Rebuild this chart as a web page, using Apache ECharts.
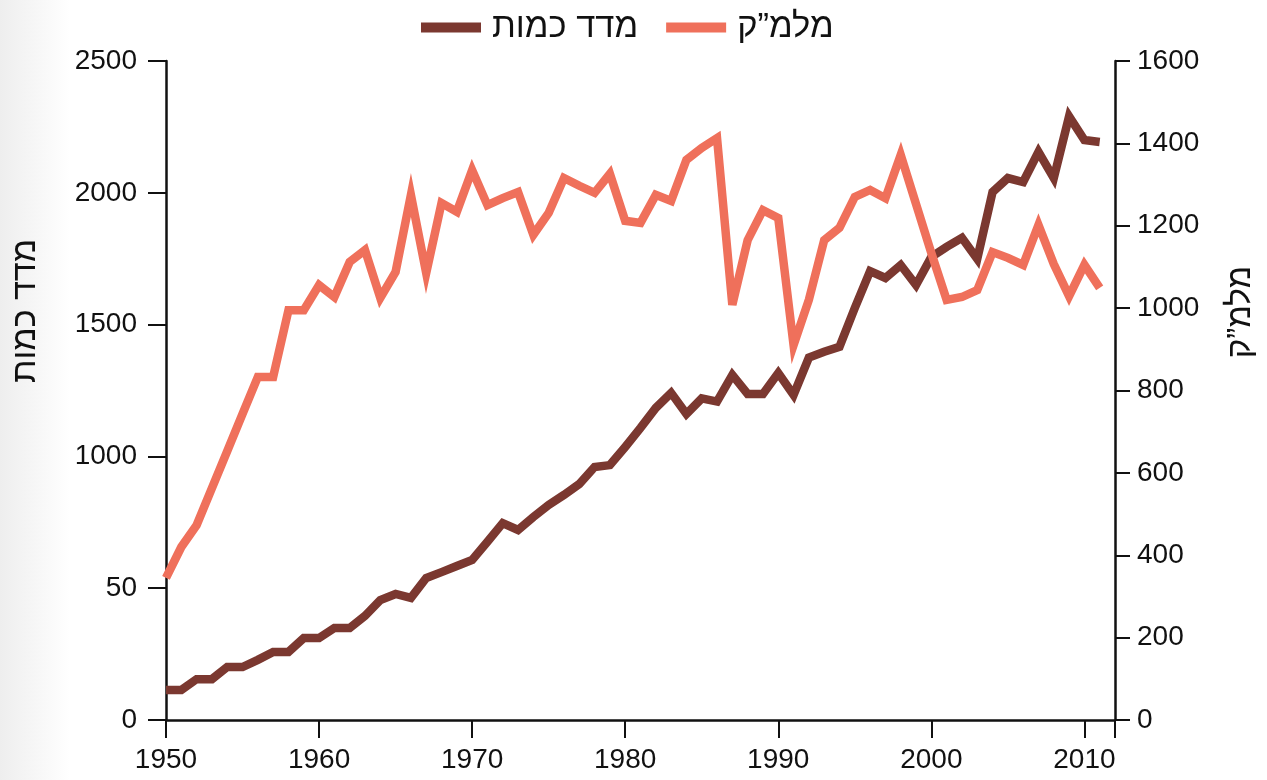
<!DOCTYPE html>
<html>
<head>
<meta charset="utf-8">
<script src="https://cdn.jsdelivr.net/npm/echarts@6/dist/echarts.min.js"></script>
<style>
    html, body { margin: 0; padding: 0; }
    body { background: linear-gradient(to right, #eeeeee 0px, #ffffff 70px); }
    #chart { width: 1267px; height: 780px; }
</style>
</head>
<body>
<div id="chart"></div>
<script>
// שנים
const years = [
    1950, 1951, 1952, 1953, 1954, 1955, 1956, 1957, 1958, 1959,
    1960, 1961, 1962, 1963, 1964, 1965, 1966, 1967, 1968, 1969,
    1970, 1971, 1972, 1973, 1974, 1975, 1976, 1977, 1978, 1979,
    1980, 1981, 1982, 1983, 1984, 1985, 1986, 1987, 1988, 1989,
    1990, 1991, 1992, 1993, 1994, 1995, 1996, 1997, 1998, 1999,
    2000, 2001, 2002, 2003, 2004, 2005, 2006, 2007, 2008, 2009,
    2010, 2011
];

// מדד כמות (ציר שמאלי)
const quantityIndex = [
    114, 114, 155, 155, 201, 201, 228, 258, 258, 311,
    311, 349, 349, 395, 455, 478, 463, 539, 561, 584,
    607, 676, 747, 721, 770, 816, 854, 895, 960, 967,
    1036, 1108, 1184, 1241, 1161, 1220, 1208, 1309, 1237, 1237,
    1316, 1233, 1375, 1397, 1416, 1563, 1703, 1677, 1726, 1650,
    1757, 1795, 1829, 1749, 2003, 2056, 2041, 2155, 2056, 2290,
    2200, 2193
];

// מלמ"ק (ציר ימני)
const mlmk = [
    345, 420, 473, 563, 653, 743, 833, 833, 995, 995,
    1056, 1027, 1112, 1141, 1025, 1088, 1275, 1085, 1255, 1234,
    1335, 1250, 1267, 1282, 1178, 1231, 1316, 1297, 1280, 1326,
    1212, 1207, 1275, 1260, 1360, 1389, 1413, 1008, 1165, 1238,
    1219, 910, 1020, 1165, 1195, 1270, 1287, 1267, 1372, 1253,
    1134, 1020, 1027, 1044, 1136, 1122, 1105, 1202, 1107, 1029,
    1105, 1049
];

// תוויות הציר השמאלי כפי שמופיעות במקור
const leftTickLabels = ['0', '50', '1000', '1500', '2000', '2500'];

const seriesNames = ['מדד כמות', 'מלמ”ק'];

const font = "'Liberation Sans', 'DejaVu Sans', sans-serif";
const axisColor = '#111';

const chart = echarts.init(document.getElementById('chart'), null, { renderer: 'canvas' });

const option = {
    animation: false,
    backgroundColor: 'transparent',
    textStyle: { fontFamily: font },
    legend: {
        data: seriesNames,
        left: 416,
        top: 5,
        itemWidth: 60,
        itemHeight: 10,
        itemGap: 28,
        icon: 'rect',
        textStyle: { fontSize: 34.5, color: '#111', fontFamily: font, padding: [0, 0, 0, 6] }
    },
    grid: { left: 166, right: 152, top: 61, bottom: 60 },
    xAxis: {
        type: 'value',
        min: 1950,
        max: 2012,
        interval: 10,
        axisLine: { lineStyle: { color: axisColor, width: 2.5 } },
        axisTick: { length: 18, lineStyle: { color: axisColor, width: 2 } },
        axisLabel: {
            fontSize: 28,
            color: axisColor,
            margin: 26,
            formatter: v => (v % 10 === 0 ? String(v) : '')
        },
        splitLine: { show: false }
    },
    yAxis: [
        {
            type: 'value',
            position: 'left',
            min: 0,
            max: 2500,
            interval: 500,
            axisLine: { show: true, lineStyle: { color: axisColor, width: 2.5 } },
            axisTick: { show: true, length: 18, lineStyle: { color: axisColor, width: 2 } },
            axisLabel: {
                fontSize: 28,
                color: axisColor,
                margin: 29,
                formatter: (v) => leftTickLabels[Math.round(v / 500)]
            },
            splitLine: { show: false }
        },
        {
            type: 'value',
            position: 'right',
            min: 0,
            max: 1600,
            interval: 200,
            axisLine: { show: true, lineStyle: { color: axisColor, width: 2.5 } },
            axisTick: { show: true, length: 15, lineStyle: { color: axisColor, width: 2 } },
            axisLabel: { fontSize: 28, color: axisColor, margin: 22, formatter: v => String(v) },
            splitLine: { show: false }
        }
    ],
    graphic: [
        {
            type: 'text',
            x: 26,
            y: 311,
            rotation: Math.PI / 2,
            style: {
                text: seriesNames[0],
                fontSize: 34,
                fontFamily: font,
                fill: '#111',
                align: 'center',
                verticalAlign: 'middle'
            }
        },
        {
            type: 'text',
            x: 1241,
            y: 312,
            rotation: Math.PI / 2,
            style: {
                text: seriesNames[1],
                fontSize: 33,
                fontFamily: font,
                fill: '#111',
                align: 'center',
                verticalAlign: 'middle'
            }
        }
    ],
    series: [
        {
            name: seriesNames[0],
            type: 'line',
            yAxisIndex: 0,
            data: years.map((y, i) => [y, quantityIndex[i]]),
            showSymbol: false,
            color: '#7b3830',
            lineStyle: { color: '#7b3830', width: 8.5, join: 'miter', miterLimit: 6, cap: 'butt' }
        },
        {
            name: seriesNames[1],
            type: 'line',
            yAxisIndex: 1,
            data: years.map((y, i) => [y, mlmk[i]]),
            showSymbol: false,
            color: '#ef705b',
            lineStyle: { color: '#ef705b', width: 8.5, join: 'miter', miterLimit: 6, cap: 'butt' }
        }
    ]
};

chart.setOption(option);
</script>
</body>
</html>
